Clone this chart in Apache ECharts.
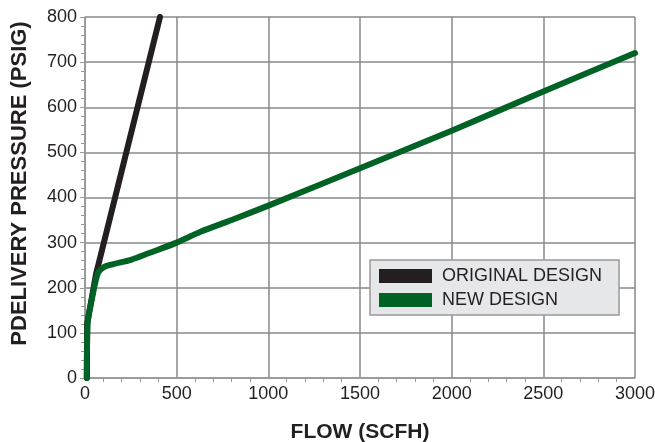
<!DOCTYPE html>
<html><head><meta charset="utf-8">
<script src="https://cdn.jsdelivr.net/npm/echarts@6/dist/echarts.min.js"></script>
<style>html,body{margin:0;padding:0;background:#fff}#c{width:655px;height:442px}</style>
</head><body><div id="c"></div>
<script>
var originalFlow = [10, 12, 60, 409];
var originalPressure = [0, 120, 230, 800];
var newFlow = [10, 14, 40, 70, 100, 150, 250, 350, 500, 630, 800, 1000, 1500, 2000, 2500, 3000];
var newPressure = [0, 120, 180, 232, 245, 252, 262, 277, 300, 324, 350, 382, 465, 548, 635, 720];
var seriesNames = ['ORIGINAL DESIGN', 'NEW DESIGN'];

function zip(a, b) { return a.map(function (v, i) { return [v, b[i]]; }); }
var font = '"Liberation Sans", Arial, sans-serif';
var chart = echarts.init(document.getElementById('c'));
chart.setOption({
  animation: false,
  grid: { left: 85, right: 20, top: 17, bottom: 64, outerBoundsMode: 'none', containLabel: false },
  legend: {
    left: 370, top: 260,
    orient: 'vertical', itemGap: 6,
    padding: [7, 17, 6, 9],
    backgroundColor: '#e6e7e8', borderColor: '#999', borderWidth: 1.5,
    itemWidth: 53, itemHeight: 14, borderRadius: 0,
    icon: 'rect',
    textStyle: { fontFamily: font, fontSize: 18, lineHeight: 18, color: '#231f20', padding: [0, 0, 0, 5] },
    data: seriesNames
  },
  xAxis: {
    type: 'value', min: 0, max: 3000, interval: 500,
    name: 'FLOW (SCFH)', nameLocation: 'middle', nameGap: 44,
    nameTextStyle: { fontFamily: font, fontSize: 21, fontWeight: 'bold', color: '#231f20' },
    axisLine: { lineStyle: { color: '#999', width: 1.5 } },
    axisTick: { show: false },
    minorTick: { show: true, splitNumber: 5, length: 4, lineStyle: { color: '#999', width: 1 } },
    axisLabel: { fontFamily: font, fontSize: 18, color: '#231f20', margin: 7, formatter: function (v) { return String(v); } },
    splitLine: { show: true, lineStyle: { color: '#888', width: 1.5 } }
  },
  yAxis: {
    type: 'value', min: 0, max: 800, interval: 100,
    name: 'PDELIVERY PRESSURE (PSIG)', nameLocation: 'middle', nameGap: 54, nameRotate: 90,
    nameTextStyle: { fontFamily: font, fontSize: 22, fontWeight: 'bold', color: '#231f20', padding: [0, 0, 0, 28] },
    axisLine: { show: true, lineStyle: { color: '#999', width: 1.5 } },
    axisTick: { show: true, length: 5, lineStyle: { color: '#999', width: 1 } },
    minorTick: { show: true, splitNumber: 5, length: 4, lineStyle: { color: '#999', width: 1 } },
    axisLabel: { fontFamily: font, fontSize: 18, color: '#231f20', margin: 8 },
    splitLine: { show: true, lineStyle: { color: '#888', width: 1.5 } }
  },
  series: [
    {
      name: seriesNames[0], type: 'line', data: zip(originalFlow, originalPressure),
      showSymbol: false, smooth: false,
      lineStyle: { color: '#231f20', width: 6, cap: 'round' },
      itemStyle: { color: '#231f20' }, z: 2
    },
    {
      name: seriesNames[1], type: 'line', data: zip(newFlow, newPressure),
      showSymbol: false, smooth: 0.3,
      lineStyle: { color: '#006225', width: 6, cap: 'round', join: 'round' },
      itemStyle: { color: '#006225' }, z: 3
    }
  ]
});
</script></body></html>
